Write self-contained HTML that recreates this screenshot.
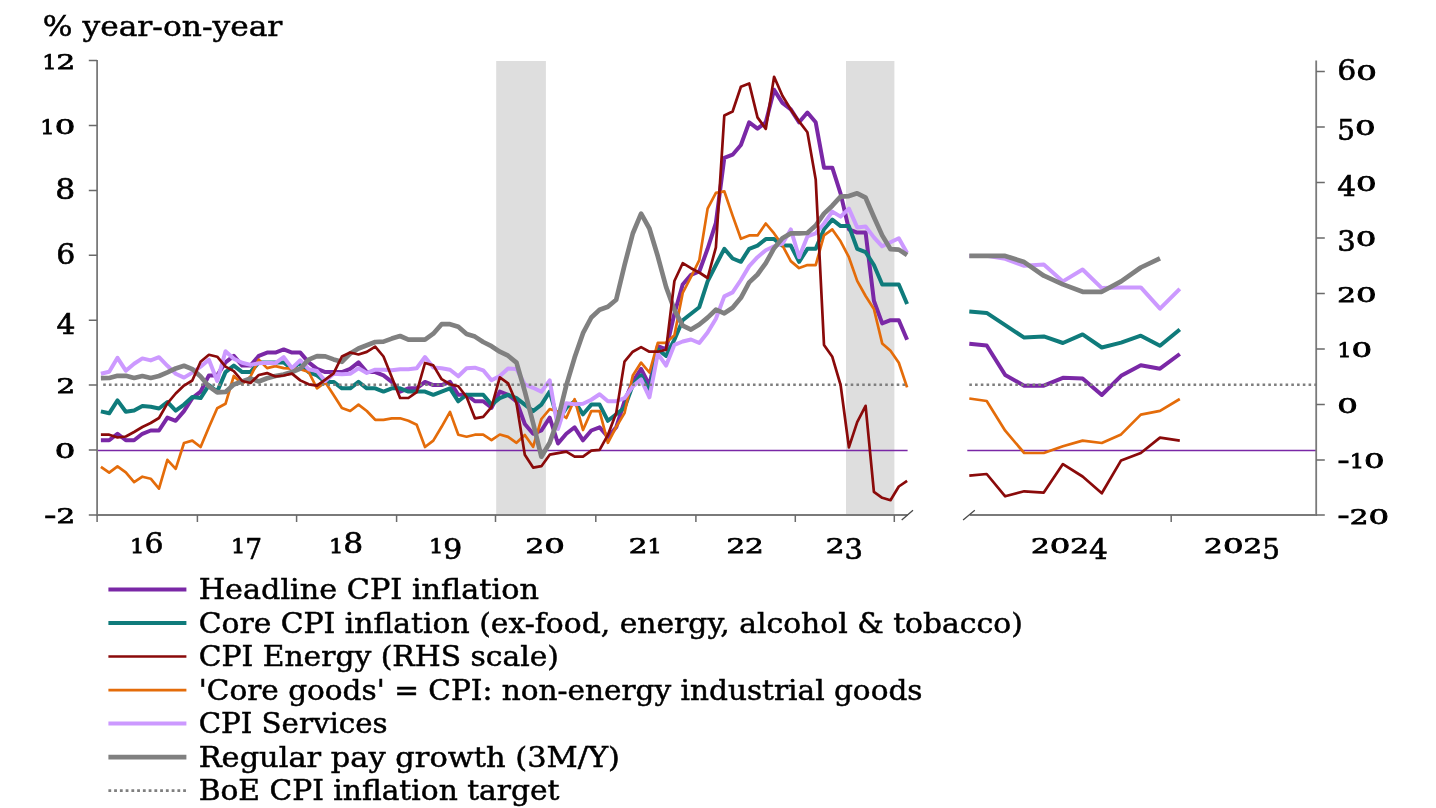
<!DOCTYPE html>
<html lang="en"><head><meta charset="utf-8"><title>UK inflation measures, % year-on-year</title>
<style>html,body{margin:0;padding:0;background:#fff}body{width:1436px;height:808px;overflow:hidden}svg{display:block}</style>
</head><body>
<svg width="1436" height="808" viewBox="0 0 1436 808" font-family='"DejaVu Serif", "Liberation Serif", serif' fill="#000">
<rect width="1436" height="808" fill="#fff"/>
<rect x="496.2" y="61" width="49.7" height="453.1" fill="#dedede"/>
<rect x="846" y="61" width="48.4" height="453.1" fill="#dedede"/>
<path d="M97.4 450.4H907.6M967.3 450.4H1316" stroke="#7A28A6" stroke-width="1.5" fill="none"/>
<g fill="none" stroke="#7A28A6" stroke-width="4.0" stroke-linejoin="round" stroke-linecap="butt">
<polyline points="100.9,440.3 109.2,440.3 117.5,433.8 125.8,440.3 134.1,440.3 142.4,433.8 150.7,430.5 159.0,430.5 167.4,417.6 175.7,420.8 184.0,411.1 192.3,398.1 200.6,391.6 208.9,375.4 217.2,375.4 225.5,362.4 233.8,355.9 242.2,365.6 250.5,365.6 258.8,355.9 267.1,352.6 275.4,352.6 283.7,349.4 292.0,352.6 300.3,352.6 308.7,362.4 317.0,368.9 325.3,372.1 333.6,372.1 341.9,372.1 350.2,368.9 358.5,362.4 366.8,372.1 375.2,372.1 383.5,375.4 391.8,381.9 400.1,391.6 408.4,388.3 416.7,388.3 425.0,381.9 433.3,385.1 441.6,385.1 450.0,381.9 458.3,394.8 466.6,394.8 474.9,401.3 483.2,401.3 491.5,407.8 499.8,391.6 508.1,394.8 516.5,401.3 524.8,424.0 533.1,433.8 541.4,430.5 549.7,417.6 558.0,443.5 566.3,433.8 574.6,427.3 583.0,440.3 591.3,430.5 599.6,427.3 607.9,437.0 616.2,427.3 624.5,401.3 632.8,381.9 641.1,368.9 649.4,385.1 657.8,346.2 666.1,349.4 674.4,313.7 682.7,284.5 691.0,274.8 699.3,271.5 707.6,248.8 715.9,222.8 724.3,157.9 732.6,154.7 740.9,145.0 749.2,122.3 757.5,128.7 765.8,122.3 774.1,89.8 782.4,102.8 790.8,109.3 799.1,122.3 807.4,112.5 815.7,122.3 824.0,167.7 832.3,167.7 840.6,193.6 848.9,229.3 857.2,232.6 865.6,232.6 873.9,300.7 882.2,323.4 890.5,320.2 898.8,320.2 907.1,339.7"/>
<polyline points="969.3,343.8 986.7,345.5 1005.2,375.0 1024.2,385.7 1043.8,385.7 1062.9,377.8 1082.6,378.5 1101.8,395.0 1121.1,375.8 1140.8,365.2 1160.0,368.7 1179.8,354.0"/>
</g>
<g fill="none" stroke="#0F7B7B" stroke-width="4.0" stroke-linejoin="round" stroke-linecap="butt">
<polyline points="100.9,411.4 109.2,413.3 117.5,400.4 125.8,411.7 134.1,410.4 142.4,405.9 150.7,406.8 159.0,408.5 167.4,402.0 175.7,410.7 184.0,404.6 192.3,397.1 200.6,398.1 208.9,385.1 217.2,391.6 225.5,372.1 233.8,365.6 242.2,372.1 250.5,372.1 258.8,362.4 267.1,362.4 275.4,362.4 283.7,362.4 292.0,368.9 300.3,362.4 308.7,372.1 317.0,375.4 325.3,381.9 333.6,381.9 341.9,388.3 350.2,388.3 358.5,381.9 366.8,388.3 375.2,388.3 383.5,391.6 391.8,388.3 400.1,388.3 408.4,391.6 416.7,391.6 425.0,391.6 433.3,394.8 441.6,391.6 450.0,388.3 458.3,401.3 466.6,394.8 474.9,394.8 483.2,394.8 491.5,404.6 499.8,398.1 508.1,394.8 516.5,398.1 524.8,404.6 533.1,411.1 541.4,404.6 549.7,391.6 558.0,420.8 566.3,407.8 574.6,401.3 583.0,414.3 591.3,404.6 599.6,404.6 607.9,420.8 616.2,414.3 624.5,407.8 632.8,385.1 641.1,375.4 649.4,391.6 657.8,349.4 666.1,355.9 674.4,339.7 682.7,320.2 691.0,313.7 699.3,307.2 707.6,281.3 715.9,265.0 724.3,248.8 732.6,258.5 740.9,261.8 749.2,248.8 757.5,245.6 765.8,239.1 774.1,239.1 782.4,245.6 790.8,245.6 799.1,261.8 807.4,248.8 815.7,248.8 824.0,229.3 832.3,219.6 840.6,226.1 848.9,226.1 857.2,248.8 865.6,252.1 873.9,265.0 882.2,284.5 890.5,284.5 898.8,284.5 907.1,304.0"/>
<polyline points="969.3,311.6 986.7,312.9 1005.2,325.2 1024.2,337.6 1043.8,336.4 1062.9,343.0 1082.6,334.4 1101.8,347.5 1121.1,342.6 1140.8,335.7 1160.0,345.8 1179.8,329.5"/>
</g>
<g fill="none" stroke="#E46C0A" stroke-width="2.7" stroke-linejoin="round" stroke-linecap="butt">
<polyline points="100.9,466.8 109.2,472.7 117.5,466.4 125.8,472.3 134.1,482.2 142.4,476.7 150.7,478.7 159.0,488.6 167.4,459.9 175.7,468.8 184.0,443.0 192.3,440.6 200.6,447.0 208.9,427.2 217.2,408.2 225.5,403.8 233.8,376.0 242.2,384.0 250.5,376.5 258.8,359.7 267.1,368.1 275.4,366.1 283.7,368.1 292.0,368.6 300.3,369.2 308.7,372.0 317.0,388.3 325.3,382.2 333.6,395.1 341.9,408.0 350.2,411.0 358.5,404.6 366.8,411.0 375.2,419.8 383.5,419.8 391.8,418.3 400.1,418.3 408.4,420.8 416.7,424.8 425.0,447.0 433.3,440.6 441.6,426.8 450.0,411.9 458.3,434.7 466.6,436.7 474.9,434.7 483.2,434.7 491.5,440.2 499.8,434.5 508.1,436.9 516.5,442.8 524.8,434.9 533.1,446.8 541.4,419.0 549.7,409.1 558.0,411.5 566.3,418.0 574.6,399.2 583.0,430.0 591.3,411.1 599.6,411.1 607.9,442.8 616.2,427.0 624.5,413.1 632.8,375.5 641.1,362.6 649.4,372.5 657.8,342.8 666.1,342.8 674.4,335.2 682.7,293.0 691.0,277.0 699.3,260.1 707.6,208.6 715.9,192.8 724.3,191.3 732.6,215.6 740.9,238.8 749.2,235.4 757.5,235.4 765.8,223.5 774.1,233.4 782.4,245.3 790.8,261.1 799.1,268.1 807.4,265.1 815.7,265.1 824.0,235.4 832.3,229.4 840.6,241.3 848.9,257.2 857.2,280.9 865.6,296.0 873.9,309.0 882.2,343.4 890.5,350.8 898.8,362.7 907.1,387.4"/>
<polyline points="969.3,398.5 986.7,401.0 1005.2,430.7 1024.2,453.0 1043.8,453.0 1062.9,446.3 1082.6,440.6 1101.8,443.0 1121.1,434.4 1140.8,414.6 1160.0,410.9 1179.8,399.0"/>
</g>
<g fill="none" stroke="#CC99FF" stroke-width="4.0" stroke-linejoin="round" stroke-linecap="butt">
<polyline points="100.9,373.7 109.2,371.7 117.5,357.8 125.8,370.7 134.1,363.8 142.4,358.4 150.7,360.4 159.0,357.2 167.4,365.8 175.7,373.7 184.0,377.6 192.3,372.6 200.6,366.6 208.9,359.7 217.2,381.0 225.5,351.3 233.8,358.7 242.2,362.7 250.5,364.9 258.8,363.2 267.1,362.7 275.4,363.2 283.7,357.2 292.0,368.1 300.3,360.3 308.7,369.2 317.0,371.0 325.3,381.0 333.6,373.7 341.9,374.3 350.2,373.7 358.5,368.3 366.8,372.9 375.2,369.7 383.5,369.7 391.8,370.3 400.1,369.3 408.4,369.3 416.7,368.3 425.0,357.0 433.3,367.4 441.6,368.3 450.0,369.7 458.3,376.3 466.6,368.3 474.9,367.7 483.2,370.3 491.5,380.3 499.8,376.0 508.1,368.5 516.5,369.0 524.8,384.4 533.1,387.8 541.4,391.8 549.7,380.4 558.0,429.0 566.3,403.2 574.6,404.2 583.0,403.7 591.3,399.7 599.6,394.3 607.9,401.2 616.2,401.2 624.5,398.2 632.8,386.4 641.1,379.4 649.4,397.3 657.8,353.7 666.1,365.6 674.4,344.8 682.7,341.5 691.0,339.5 699.3,343.0 707.6,332.5 715.9,318.7 724.3,296.4 732.6,292.4 740.9,280.0 749.2,266.1 757.5,257.2 765.8,250.2 774.1,246.3 782.4,243.7 790.8,229.4 799.1,257.2 807.4,236.4 815.7,233.4 824.0,223.5 832.3,211.6 840.6,216.6 848.9,208.6 857.2,227.4 865.6,226.5 873.9,237.4 882.2,246.3 890.5,242.3 898.8,238.3 907.1,253.0"/>
<polyline points="969.3,255.9 986.7,255.9 1005.2,258.9 1024.2,265.8 1043.8,264.6 1062.9,281.4 1082.6,269.5 1101.8,288.1 1121.1,287.4 1140.8,287.4 1160.0,308.7 1179.8,288.8"/>
</g>
<g fill="none" stroke="#808080" stroke-width="4.7" stroke-linejoin="round" stroke-linecap="butt">
<polyline points="100.9,378.2 109.2,378.0 117.5,375.8 125.8,375.8 134.1,378.0 142.4,376.0 150.7,378.0 159.0,376.0 167.4,372.4 175.7,368.4 184.0,365.8 192.3,369.1 200.6,376.5 208.9,386.4 217.2,392.4 225.5,391.9 233.8,384.5 242.2,381.5 250.5,378.5 258.8,381.5 267.1,378.3 275.4,376.0 283.7,374.6 292.0,372.1 300.3,368.6 308.7,359.7 317.0,356.2 325.3,356.4 333.6,359.4 341.9,361.8 350.2,353.5 358.5,348.5 366.8,345.2 375.2,342.0 383.5,341.6 391.8,338.6 400.1,336.0 408.4,339.6 416.7,339.6 425.0,339.6 433.3,333.7 441.6,324.2 450.0,324.2 458.3,326.7 466.6,334.0 474.9,336.6 483.2,342.0 491.5,346.2 499.8,351.7 508.1,355.7 516.5,362.6 524.8,391.3 533.1,423.0 541.4,456.7 549.7,442.8 558.0,419.0 566.3,385.4 574.6,357.6 583.0,333.2 591.3,317.5 599.6,309.8 607.9,306.8 616.2,299.8 624.5,265.2 632.8,233.5 641.1,213.7 649.4,228.5 657.8,256.3 666.1,287.0 674.4,309.8 682.7,325.6 691.0,329.6 699.3,324.5 707.6,317.6 715.9,309.7 724.3,313.3 732.6,307.7 740.9,297.8 749.2,282.4 757.5,274.5 765.8,263.1 774.1,248.2 782.4,238.3 790.8,233.4 799.1,233.4 807.4,233.0 815.7,225.5 824.0,213.6 832.3,205.7 840.6,196.7 848.9,196.1 857.2,193.3 865.6,197.7 873.9,217.0 882.2,235.4 890.5,249.2 898.8,249.6 907.1,255.0"/>
<polyline points="969.3,255.9 986.7,255.9 1005.2,255.9 1024.2,262.1 1043.8,275.7 1062.9,284.4 1082.6,291.8 1101.8,291.8 1121.1,281.4 1140.8,267.5 1160.0,258.4"/>
</g>
<path d="M103.2 384.8H907.6M969.3 384.8H1316" stroke="#7f7f7f" stroke-width="2.4" stroke-dasharray="2.6 3.15" fill="none"/>
<g fill="none" stroke="#8A0A0A" stroke-width="2.7" stroke-linejoin="round" stroke-linecap="butt">
<polyline points="100.9,434.7 109.2,434.7 117.5,437.5 125.8,436.5 134.1,432.0 142.4,427.0 150.7,423.0 159.0,418.0 167.4,403.4 175.7,393.5 184.0,385.6 192.3,380.5 200.6,361.7 208.9,354.8 217.2,356.7 225.5,366.6 233.8,371.1 242.2,381.0 250.5,383.0 258.8,375.0 267.1,373.1 275.4,376.5 283.7,375.5 292.0,373.6 300.3,380.4 308.7,384.3 317.0,385.6 325.3,379.6 333.6,373.3 341.9,356.5 350.2,352.5 358.5,354.5 366.8,351.9 375.2,346.6 383.5,356.5 391.8,377.3 400.1,398.0 408.4,398.0 416.7,392.1 425.0,363.0 433.3,365.4 441.6,379.2 450.0,384.2 458.3,386.2 466.6,397.0 474.9,418.3 483.2,416.9 491.5,407.1 499.8,377.4 508.1,383.4 516.5,403.2 524.8,454.7 533.1,467.6 541.4,466.2 549.7,454.7 558.0,453.1 566.3,451.7 574.6,456.7 583.0,456.7 591.3,450.7 599.6,449.8 607.9,434.9 616.2,413.1 624.5,361.6 632.8,351.7 641.1,347.1 649.4,351.7 657.8,351.7 666.1,349.7 674.4,281.0 682.7,263.2 691.0,268.2 699.3,272.5 707.6,278.0 715.9,247.3 724.3,115.5 732.6,111.5 740.9,86.7 749.2,83.4 757.5,117.4 765.8,128.9 774.1,76.8 782.4,95.7 790.8,109.5 799.1,121.4 807.4,132.3 815.7,179.4 824.0,344.9 832.3,356.8 840.6,385.0 848.9,447.3 857.2,422.1 865.6,405.8 873.9,491.8 882.2,497.8 890.5,500.2 898.8,486.5 907.1,480.9"/>
<polyline points="969.3,475.7 986.7,474.0 1005.2,496.3 1024.2,491.3 1043.8,492.6 1062.9,464.1 1082.6,476.5 1101.8,493.3 1121.1,460.4 1140.8,453.0 1160.0,437.6 1179.8,440.6"/>
</g>
<path d="M97.1 59.9V515.0M96.2 515.0H907.6M969.8 515.0H1317.1M1316.2 515.0V60.6" stroke="#7a7a7a" stroke-width="1.8" fill="none"/>
<path d="M88.8 515.0H97.1M88.8 450.0H97.1M88.8 385.1H97.1M88.8 320.2H97.1M88.8 255.3H97.1M88.8 190.4H97.1M88.8 125.5H97.1M88.8 60.6H97.1M1316.2 515.0H1324.8M1316.2 459.9H1324.8M1316.2 404.4H1324.8M1316.2 348.9H1324.8M1316.2 293.4H1324.8M1316.2 237.9H1324.8M1316.2 182.4H1324.8M1316.2 126.9H1324.8M1316.2 71.4H1324.8M97.1 515.0V522M197.4 515.0V522M296.6 515.0V522M396.6 515.0V522M495.5 515.0V522M595.8 515.0V522M695.9 515.0V522M795.3 515.0V522M894.3 515.0V522M1171.2 515.0V522" stroke="#6a6a6a" stroke-width="1.5" fill="none"/>
<path d="M901.7 519.9L913 510.2M963.1 519.9L974.8 510.2" stroke="#4a4a4a" stroke-width="1.3" fill="none"/>
<text x="42.8" y="36.3" font-size="28" text-anchor="start" textLength="239.5" lengthAdjust="spacingAndGlyphs" stroke="#000" stroke-width="0.5">% year-on-year</text>
<text x="198.7" y="599.4" font-size="28" text-anchor="start" textLength="340.2" lengthAdjust="spacingAndGlyphs" stroke="#000" stroke-width="0.5">Headline CPI inflation</text>
<path d="M108.4 589.5H186.4" stroke="#7A28A6" stroke-width="4.0" fill="none"/>
<text x="198.7" y="632.8" font-size="28" text-anchor="start" textLength="824.1" lengthAdjust="spacingAndGlyphs" stroke="#000" stroke-width="0.5">Core CPI inflation (ex-food, energy, alcohol &amp; tobacco)</text>
<path d="M108.4 623.0H186.4" stroke="#0F7B7B" stroke-width="4.0" fill="none"/>
<text x="198.7" y="666.3" font-size="28" text-anchor="start" textLength="360.3" lengthAdjust="spacingAndGlyphs" stroke="#000" stroke-width="0.5">CPI Energy (RHS scale)</text>
<path d="M108.4 656.5H186.4" stroke="#8A0A0A" stroke-width="2.7" fill="none"/>
<text x="198.7" y="699.7" font-size="28" text-anchor="start" textLength="723.8" lengthAdjust="spacingAndGlyphs" stroke="#000" stroke-width="0.5">'Core goods' = CPI: non-energy industrial goods</text>
<path d="M108.4 690.1H186.4" stroke="#E46C0A" stroke-width="2.7" fill="none"/>
<text x="198.7" y="733.1" font-size="28" text-anchor="start" textLength="188.8" lengthAdjust="spacingAndGlyphs" stroke="#000" stroke-width="0.5">CPI Services</text>
<path d="M108.4 723.6H186.4" stroke="#CC99FF" stroke-width="4.0" fill="none"/>
<text x="198.7" y="766.5" font-size="28" text-anchor="start" textLength="421.3" lengthAdjust="spacingAndGlyphs" stroke="#000" stroke-width="0.5">Regular pay growth (3M/Y)</text>
<path d="M108.4 757.1H186.4" stroke="#808080" stroke-width="4.7" fill="none"/>
<text x="198.7" y="800.0" font-size="28" text-anchor="start" textLength="360.8" lengthAdjust="spacingAndGlyphs" stroke="#000" stroke-width="0.5">BoE CPI inflation target</text>
<path d="M108.4 790.6H186.4" stroke="#7f7f7f" stroke-width="2.6" stroke-dasharray="2.8 2.95" fill="none"/>
<text stroke="#000"><tspan x="44.0" y="523.6" font-size="28.4" stroke-width="0.6" textLength="12.5" lengthAdjust="spacingAndGlyphs">-</tspan><tspan x="56.6" y="523.1" font-size="20.8" stroke-width="0.75" textLength="18.7" lengthAdjust="spacingAndGlyphs">2</tspan></text>
<text stroke="#000"><tspan x="54.7" y="458.2" font-size="20.8" stroke-width="0.75" textLength="20.6" lengthAdjust="spacingAndGlyphs">0</tspan></text>
<text stroke="#000"><tspan x="56.6" y="393.3" font-size="20.8" stroke-width="0.75" textLength="18.7" lengthAdjust="spacingAndGlyphs">2</tspan></text>
<text stroke="#000"><tspan x="56.4" y="333.7" font-size="27.4" stroke-width="0.6" textLength="18.9" lengthAdjust="spacingAndGlyphs">4</tspan></text>
<text stroke="#000"><tspan x="56.3" y="263.5" font-size="27.4" stroke-width="0.6" textLength="19.0" lengthAdjust="spacingAndGlyphs">6</tspan></text>
<text stroke="#000"><tspan x="55.3" y="198.6" font-size="27.4" stroke-width="0.6" textLength="20.0" lengthAdjust="spacingAndGlyphs">8</tspan></text>
<text stroke="#000"><tspan x="40.3" y="133.7" font-size="20.8" stroke-width="0.75" textLength="14.4" lengthAdjust="spacingAndGlyphs">1</tspan><tspan x="54.7" y="133.7" font-size="20.8" stroke-width="0.75" textLength="20.6" lengthAdjust="spacingAndGlyphs">0</tspan></text>
<text stroke="#000"><tspan x="42.2" y="68.8" font-size="20.8" stroke-width="0.75" textLength="14.4" lengthAdjust="spacingAndGlyphs">1</tspan><tspan x="56.6" y="68.8" font-size="20.8" stroke-width="0.75" textLength="18.7" lengthAdjust="spacingAndGlyphs">2</tspan></text>
<text stroke="#000"><tspan x="1337.2" y="524.1" font-size="28.4" stroke-width="0.6" textLength="12.5" lengthAdjust="spacingAndGlyphs">-</tspan><tspan x="1349.7" y="523.6" font-size="20.8" stroke-width="0.75" textLength="18.7" lengthAdjust="spacingAndGlyphs">2</tspan><tspan x="1368.5" y="523.6" font-size="20.8" stroke-width="0.75" textLength="20.6" lengthAdjust="spacingAndGlyphs">0</tspan></text>
<text stroke="#000"><tspan x="1337.2" y="468.6" font-size="28.4" stroke-width="0.6" textLength="12.5" lengthAdjust="spacingAndGlyphs">-</tspan><tspan x="1349.7" y="468.1" font-size="20.8" stroke-width="0.75" textLength="14.4" lengthAdjust="spacingAndGlyphs">1</tspan><tspan x="1364.1" y="468.1" font-size="20.8" stroke-width="0.75" textLength="20.6" lengthAdjust="spacingAndGlyphs">0</tspan></text>
<text stroke="#000"><tspan x="1337.2" y="412.6" font-size="20.8" stroke-width="0.75" textLength="20.6" lengthAdjust="spacingAndGlyphs">0</tspan></text>
<text stroke="#000"><tspan x="1337.2" y="357.1" font-size="20.8" stroke-width="0.75" textLength="14.4" lengthAdjust="spacingAndGlyphs">1</tspan><tspan x="1351.6" y="357.1" font-size="20.8" stroke-width="0.75" textLength="20.6" lengthAdjust="spacingAndGlyphs">0</tspan></text>
<text stroke="#000"><tspan x="1337.2" y="301.6" font-size="20.8" stroke-width="0.75" textLength="18.7" lengthAdjust="spacingAndGlyphs">2</tspan><tspan x="1355.9" y="301.6" font-size="20.8" stroke-width="0.75" textLength="20.6" lengthAdjust="spacingAndGlyphs">0</tspan></text>
<text stroke="#000"><tspan x="1337.2" y="251.4" font-size="27.4" stroke-width="0.6" textLength="18.5" lengthAdjust="spacingAndGlyphs">3</tspan><tspan x="1355.7" y="246.1" font-size="20.8" stroke-width="0.75" textLength="20.6" lengthAdjust="spacingAndGlyphs">0</tspan></text>
<text stroke="#000"><tspan x="1337.2" y="195.9" font-size="27.4" stroke-width="0.6" textLength="18.9" lengthAdjust="spacingAndGlyphs">4</tspan><tspan x="1356.1" y="190.6" font-size="20.8" stroke-width="0.75" textLength="20.6" lengthAdjust="spacingAndGlyphs">0</tspan></text>
<text stroke="#000"><tspan x="1337.2" y="140.4" font-size="27.4" stroke-width="0.6" textLength="17.7" lengthAdjust="spacingAndGlyphs">5</tspan><tspan x="1354.9" y="135.1" font-size="20.8" stroke-width="0.75" textLength="20.6" lengthAdjust="spacingAndGlyphs">0</tspan></text>
<text stroke="#000"><tspan x="1337.2" y="79.6" font-size="27.4" stroke-width="0.6" textLength="19.0" lengthAdjust="spacingAndGlyphs">6</tspan><tspan x="1356.2" y="79.6" font-size="20.8" stroke-width="0.75" textLength="20.6" lengthAdjust="spacingAndGlyphs">0</tspan></text>
<text stroke="#000"><tspan x="130.1" y="553.4" font-size="20.8" stroke-width="0.75" textLength="14.4" lengthAdjust="spacingAndGlyphs">1</tspan><tspan x="144.5" y="553.4" font-size="27.4" stroke-width="0.6" textLength="19.0" lengthAdjust="spacingAndGlyphs">6</tspan></text>
<text stroke="#000"><tspan x="230.9" y="553.4" font-size="20.8" stroke-width="0.75" textLength="14.4" lengthAdjust="spacingAndGlyphs">1</tspan><tspan x="245.3" y="558.7" font-size="27.4" stroke-width="0.6" textLength="16.8" lengthAdjust="spacingAndGlyphs">7</tspan></text>
<text stroke="#000"><tspan x="328.9" y="553.4" font-size="20.8" stroke-width="0.75" textLength="14.4" lengthAdjust="spacingAndGlyphs">1</tspan><tspan x="343.3" y="553.4" font-size="27.4" stroke-width="0.6" textLength="20.0" lengthAdjust="spacingAndGlyphs">8</tspan></text>
<text stroke="#000"><tspan x="428.9" y="553.4" font-size="20.8" stroke-width="0.75" textLength="14.4" lengthAdjust="spacingAndGlyphs">1</tspan><tspan x="443.3" y="558.7" font-size="27.4" stroke-width="0.6" textLength="19.0" lengthAdjust="spacingAndGlyphs">9</tspan></text>
<text stroke="#000"><tspan x="525.5" y="553.4" font-size="20.8" stroke-width="0.75" textLength="18.7" lengthAdjust="spacingAndGlyphs">2</tspan><tspan x="544.2" y="553.4" font-size="20.8" stroke-width="0.75" textLength="20.6" lengthAdjust="spacingAndGlyphs">0</tspan></text>
<text stroke="#000"><tspan x="628.8" y="553.4" font-size="20.8" stroke-width="0.75" textLength="18.7" lengthAdjust="spacingAndGlyphs">2</tspan><tspan x="647.5" y="553.4" font-size="20.8" stroke-width="0.75" textLength="14.4" lengthAdjust="spacingAndGlyphs">1</tspan></text>
<text stroke="#000"><tspan x="726.4" y="553.4" font-size="20.8" stroke-width="0.75" textLength="18.7" lengthAdjust="spacingAndGlyphs">2</tspan><tspan x="745.1" y="553.4" font-size="20.8" stroke-width="0.75" textLength="18.7" lengthAdjust="spacingAndGlyphs">2</tspan></text>
<text stroke="#000"><tspan x="825.7" y="553.4" font-size="20.8" stroke-width="0.75" textLength="18.7" lengthAdjust="spacingAndGlyphs">2</tspan><tspan x="844.4" y="558.7" font-size="27.4" stroke-width="0.6" textLength="18.5" lengthAdjust="spacingAndGlyphs">3</tspan></text>
<text stroke="#000"><tspan x="1031.0" y="553.4" font-size="20.8" stroke-width="0.75" textLength="18.7" lengthAdjust="spacingAndGlyphs">2</tspan><tspan x="1049.8" y="553.4" font-size="20.8" stroke-width="0.75" textLength="20.6" lengthAdjust="spacingAndGlyphs">0</tspan><tspan x="1070.3" y="553.4" font-size="20.8" stroke-width="0.75" textLength="18.7" lengthAdjust="spacingAndGlyphs">2</tspan><tspan x="1089.0" y="558.7" font-size="27.4" stroke-width="0.6" textLength="18.9" lengthAdjust="spacingAndGlyphs">4</tspan></text>
<text stroke="#000"><tspan x="1204.1" y="553.4" font-size="20.8" stroke-width="0.75" textLength="18.7" lengthAdjust="spacingAndGlyphs">2</tspan><tspan x="1222.9" y="553.4" font-size="20.8" stroke-width="0.75" textLength="20.6" lengthAdjust="spacingAndGlyphs">0</tspan><tspan x="1243.4" y="553.4" font-size="20.8" stroke-width="0.75" textLength="18.7" lengthAdjust="spacingAndGlyphs">2</tspan><tspan x="1262.2" y="558.7" font-size="27.4" stroke-width="0.6" textLength="17.7" lengthAdjust="spacingAndGlyphs">5</tspan></text>
</svg>
</body></html>
